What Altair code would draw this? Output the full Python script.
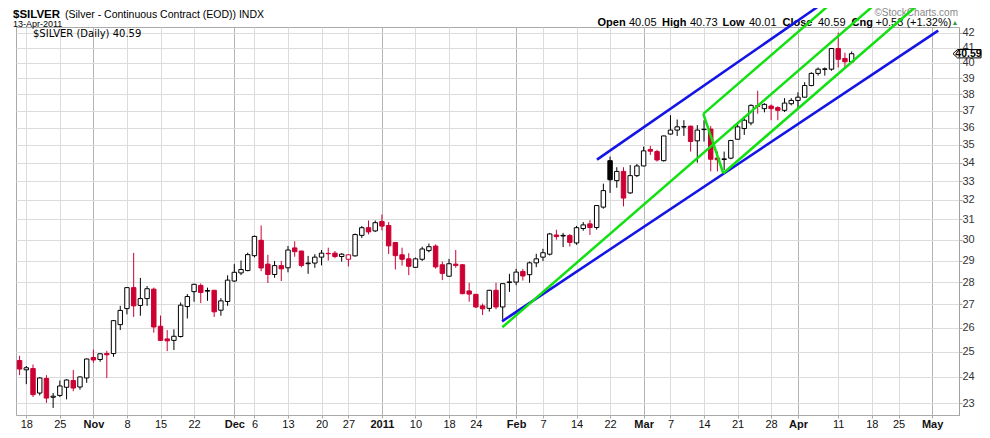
import altair as alt
import pandas as pd
import numpy as np

# ---------------- data ----------------
holidays = ["2010-11-25", "2010-12-24", "2011-01-17", "2011-02-21", "2011-04-22"]
first_day = "2010-10-15"

opens = [24.65, 24.28, 24.33, 23.38, 23.94, 23.22, 23.29, 23.60, 23.86, 23.61,
         23.96, 24.77, 24.69, 24.93, 24.93, 26.13, 26.82, 27.75, 26.96, 27.26,
         27.68, 26.06, 25.53, 25.47, 25.63, 26.91, 27.57, 27.85, 27.59, 27.63,
         26.75, 27.13, 28.05, 28.42, 28.53, 29.23, 29.97, 28.83, 28.35, 28.76,
         28.66, 29.60, 29.45, 28.85, 28.88, 29.16, 29.34, 29.35, 29.19, 29.06,
         29.22, 30.21, 30.59, 30.43, 30.90, 30.70, 29.86, 29.27, 29.08, 28.68,
         29.06, 29.47, 29.69, 28.80, 28.27, 28.83, 28.80, 27.60, 27.45, 26.94,
         26.83, 27.63, 26.89, 27.98, 28.00, 28.49, 28.34, 28.89, 29.16, 29.30,
         30.23, 30.18, 30.20, 29.84, 30.55, 30.78, 30.60, 31.63, 34.11, 33.02,
         33.52, 32.37, 33.29, 33.82, 34.74, 34.62, 34.11, 35.62, 35.85, 36.03,
         36.08, 35.23, 35.88, 35.91, 34.26, 34.18, 34.25, 35.32, 35.94, 36.27,
         37.30, 37.12, 37.28, 37.18, 37.02, 37.42, 37.62, 37.82, 38.54, 39.31,
         39.57, 39.58, 40.93, 40.28, 40.05]
highs = [24.84, 24.43, 24.49, 23.98, 24.07, 23.38, 23.86, 23.91, 24.27, 24.02,
         24.73, 25.09, 24.94, 25.04, 26.32, 26.94, 27.77, 29.36, 28.19, 27.82,
         27.75, 26.52, 25.90, 25.93, 27.09, 27.46, 27.92, 27.94, 27.75, 27.65,
         27.28, 28.31, 28.83, 29.00, 29.37, 30.20, 30.70, 29.27, 28.98, 28.98,
         29.69, 29.92, 29.47, 29.22, 29.30, 29.50, 29.61, 29.45, 29.35, 29.28,
         30.30, 30.67, 30.95, 30.95, 31.25, 30.87, 29.88, 29.61, 29.35, 29.14,
         29.66, 29.81, 29.77, 28.95, 29.08, 29.50, 28.83, 27.97, 27.46, 27.04,
         27.65, 27.97, 27.95, 28.38, 28.61, 28.61, 28.95, 29.32, 29.56, 30.33,
         30.49, 30.33, 30.28, 30.68, 30.87, 30.97, 31.73, 32.86, 34.34, 33.75,
         33.75, 33.87, 33.93, 34.90, 34.94, 34.72, 35.53, 36.73, 36.47, 36.43,
         36.10, 36.14, 36.43, 36.08, 34.62, 34.62, 35.28, 36.33, 36.66, 37.38,
         38.22, 37.45, 37.38, 37.26, 37.76, 37.76, 38.12, 38.75, 39.38, 39.69,
         39.69, 40.95, 42.00, 40.65, 40.73]
lows = [24.07, 23.72, 23.23, 23.29, 23.01, 22.82, 23.23, 23.14, 23.45, 23.51,
        23.77, 24.56, 24.60, 23.96, 24.80, 25.90, 26.57, 26.46, 26.51, 26.94,
        25.79, 25.44, 25.03, 25.07, 25.59, 26.39, 27.12, 27.06, 27.16, 26.46,
        26.51, 26.94, 28.00, 28.32, 28.50, 29.15, 28.50, 27.96, 28.20, 28.05,
        28.45, 29.18, 28.68, 28.38, 28.66, 28.77, 29.00, 29.11, 28.95, 28.72,
        29.19, 30.08, 30.26, 30.38, 30.46, 29.31, 28.58, 28.76, 28.32, 28.65,
        28.98, 29.39, 28.62, 28.09, 28.24, 28.66, 27.45, 27.12, 26.84, 26.54,
        26.69, 26.79, 26.34, 27.56, 27.86, 28.07, 27.97, 28.69, 28.98, 29.24,
        30.00, 29.64, 29.67, 29.75, 30.44, 30.23, 30.49, 31.55, 32.37, 32.64,
        31.67, 32.32, 33.21, 33.80, 34.43, 34.06, 34.06, 35.57, 35.51, 35.51,
        34.62, 34.00, 35.19, 33.52, 33.52, 33.60, 34.19, 35.30, 35.57, 36.13,
        36.82, 36.90, 36.43, 36.43, 36.92, 37.32, 37.12, 37.78, 38.50, 39.17,
        39.17, 39.48, 39.69, 39.69, 40.01]
closes = [24.31, 24.36, 23.32, 23.96, 23.19, 23.26, 23.65, 23.88, 23.57, 24.00,
          24.71, 24.67, 24.92, 24.88, 26.30, 26.74, 27.75, 26.94, 27.26, 27.70,
          26.03, 25.47, 25.45, 25.64, 26.97, 27.35, 27.90, 27.53, 27.62, 26.68,
          27.16, 28.09, 28.45, 28.58, 29.28, 30.16, 28.65, 28.35, 28.76, 28.61,
          29.50, 29.42, 28.77, 28.88, 29.16, 29.35, 29.32, 29.19, 29.30, 29.27,
          30.25, 30.59, 30.38, 30.84, 30.67, 29.70, 29.23, 29.06, 28.73, 29.08,
          29.55, 29.66, 28.70, 28.40, 28.85, 28.77, 27.48, 27.46, 26.89, 26.81,
          27.63, 26.89, 27.93, 28.01, 28.46, 28.28, 28.89, 29.08, 29.37, 30.28,
          30.15, 30.21, 29.87, 30.59, 30.73, 30.60, 31.71, 32.49, 33.07, 33.52,
          32.10, 33.29, 33.82, 34.66, 34.64, 34.15, 35.51, 35.85, 36.04, 36.05,
          35.19, 35.85, 35.90, 34.19, 34.16, 34.21, 35.25, 36.04, 36.43, 37.32,
          37.26, 37.38, 37.12, 37.02, 37.46, 37.62, 37.82, 38.54, 39.31, 39.58,
          39.60, 40.93, 40.22, 40.06, 40.59]

label_dates = ["2010-10-18", "2010-10-25", "2010-11-01", "2010-11-08", "2010-11-15",
               "2010-11-22", "2010-12-01", "2010-12-06", "2010-12-13", "2010-12-20",
               "2010-12-27", "2011-01-03", "2011-01-10", "2011-01-18", "2011-01-24",
               "2011-02-01", "2011-02-07", "2011-02-14", "2011-02-22", "2011-03-01",
               "2011-03-07", "2011-03-14", "2011-03-21", "2011-03-28", "2011-04-01",
               "2011-04-11", "2011-04-18", "2011-04-25", "2011-05-02"]
label_text = ["18", "25", "Nov", "8", "15", "22", "Dec", "6", "13", "20", "27", "2011",
              "10", "18", "24", "Feb", "7", "14", "22", "Mar", "7", "14", "21", "28",
              "Apr", "11", "18", "25", "May"]
bold_labels = ["Nov", "Dec", "2011", "Feb", "Mar", "Apr", "May"]
y_ticks = list(range(23, 43))

# trend lines (trading-day position, price)
line_seg = ["blue_lo", "blue_lo", "blue_hi", "blue_hi", "median", "median",
            "prong_top", "prong_top", "prong_low", "prong_low", "handle", "handle"]
line_pos = [71.9, 136.9, 86.05, 120.76, 71.94, 128.5, 101.9, 121.8, 104.87, 134.98, 101.9, 104.87]
line_price = [26.27, 42.14, 34.17, 44.41, 26.02, 44.41, 36.81, 44.41, 33.42, 44.41, 36.81, 33.42]

# ---------------- styles ----------------
RED = "#cc0033"
BLUE = "#1414e6"
GREEN = "#11e011"
seg_color = {"blue_lo": BLUE, "blue_hi": BLUE, "median": GREEN,
             "prong_top": GREEN, "prong_low": GREEN, "handle": GREEN}
FONT = "Liberation Sans"
OX, OY = 16, 27          # page position of the plot's top-left corner
W, H = 943, 388

# ---------------- tables ----------------
days = [d for d in pd.bdate_range(first_day, "2011-05-31")
        if d.strftime("%Y-%m-%d") not in holidays]
pos_of = {d.strftime("%Y-%m-%d"): i for i, d in enumerate(days)}
n = len(opens)
df = pd.DataFrame({"date": [d.strftime("%Y-%m-%d") for d in days[:n]],
                   "pos": np.arange(n), "open": opens, "high": highs,
                   "low": lows, "close": closes})
prev = df["close"].shift(1).fillna(df["open"])
df["col"] = np.where(df["close"] >= prev, "#000000", RED)
df["fillc"] = np.where(df["close"] >= df["open"], "#ffffff", df["col"])
df["x0"] = df["pos"] - 0.33
df["x1"] = df["pos"] + 0.33
df["top"] = df[["open", "close"]].max(axis=1)
df["bot"] = df[["open", "close"]].min(axis=1)

ldf = pd.DataFrame({"seg": line_seg, "pos": line_pos, "price": line_price})
ldf["color"] = ldf["seg"].map(seg_color)

label_pos = [pos_of[d] for d in label_dates]
month_pos = [p for p, t in zip(label_pos, label_text) if t in bold_labels]
lab_expr = ("[" + ",".join("'%s'" % t for t in label_text) + "][indexof(["
            + ",".join(str(p) for p in label_pos) + "], datum.value)]")
is_month = "indexof([" + ",".join(str(p) for p in month_pos) + "], datum.value) >= 0"

xs = alt.Scale(domain=[-0.535, 140.0], nice=False, zero=False)
ys = alt.Scale(type="log", domain=[22.56, 42.39], nice=False)

xaxis = alt.Axis(values=label_pos, labelExpr=lab_expr, title=None, grid=True,
                 gridColor={"condition": {"test": is_month, "value": "#b4b4b4"}, "value": "#dcdcdc"},
                 labelFontWeight={"condition": {"test": is_month, "value": "bold"}, "value": "normal"},
                 labelFont=FONT, labelFontSize=11, labelColor="#111111",
                 tickSize=3, tickColor="#aaaaaa", domainColor="#aaaaaa",
                 labelPadding=0, labelOverlap=False, labelFlush=False, labelBound=False)
yaxis = alt.Axis(orient="right", values=y_ticks, format="d", title=None, grid=True,
                 gridColor="#dcdcdc", labelFont=FONT, labelFontSize=11, labelColor="#333333",
                 tickSize=3, tickColor="#aaaaaa", domainColor="#999999", domainDash=[1, 1],
                 labelPadding=0, labelOverlap=False, labelFlush=False, labelBound=False)

wicks = alt.Chart(df).mark_rule(strokeWidth=1).encode(
    x=alt.X("pos:Q", scale=xs, axis=xaxis),
    y=alt.Y("low:Q", scale=ys, axis=yaxis),
    y2="high:Q",
    stroke=alt.Stroke("col:N", scale=None),
)
bodies = alt.Chart(df).mark_rect(strokeWidth=1).encode(
    x=alt.X("x0:Q", scale=xs, axis=xaxis), x2="x1:Q",
    y=alt.Y("bot:Q", scale=ys, axis=yaxis), y2="top:Q",
    fill=alt.Fill("fillc:N", scale=None),
    stroke=alt.Stroke("col:N", scale=None),
)
lines = alt.Chart(ldf).mark_line(strokeWidth=2.5, clip=False).encode(
    x=alt.X("pos:Q", scale=xs, axis=xaxis),
    y=alt.Y("price:Q", scale=ys, axis=yaxis),
    detail="seg:N",
    color=alt.Color("color:N", scale=None),
)


def txt(s, px, py, size, weight="normal", color="#000000", font=FONT, align="left"):
    # px, py: page position of the text anchor (converted to plot-relative pixels)
    return alt.Chart(pd.DataFrame({"t": [s]})).mark_text(
        align=align, baseline="alphabetic", fontSize=size, fontWeight=weight,
        color=color, font=font).encode(x=alt.value(px - OX), y=alt.value(py - OY), text="t:N")


last = df.iloc[-1]
chg = closes[-1] - closes[-2]
pct = chg / closes[-2] * 100

HY = 25.5
texts = [
    txt("$SILVER", 13, 18, 11.5, "bold"),
    txt("(Silver - Continuous Contract (EOD)) INDX", 65, 18, 10.5),
    txt(pd.Timestamp(last["date"]).strftime("%d-%b-%Y"), 13, 26.6, 9),
    txt("\u00a9StockCharts.com", 958, 16, 10, color="#888888", align="right"),
    txt("$SILVER (Daily) %.2f" % last["close"], 33, 36.5, 10, font="DejaVu Sans"),
    txt("Open", 597.5, HY, 11, "bold"),
    txt("%.2f" % last["open"], 629, HY, 11),
    txt("High", 662, HY, 11, "bold"),
    txt("%.2f" % last["high"], 690, HY, 11),
    txt("Low", 722.5, HY, 11, "bold"),
    txt("%.2f" % last["low"], 749, HY, 11),
    txt("Close", 782.5, HY, 11, "bold"),
    txt("%.2f" % last["close"], 818, HY, 11),
    txt("Cng", 851.5, HY, 11, "bold"),
    txt("%+.2f (%+.2f%%)" % (chg, pct), 875.5, HY, 11),
    txt("\u25b2", 951.5, HY - 0.5, 7, color="#2e9e2e"),
]

last_df = pd.DataFrame({"price": [closes[-1]]})
box_path = "M -1 0 L -0.68 -0.3 L 1 -0.3 L 1 0.3 L -0.68 0.3 Z"
box = alt.Chart(last_df).mark_point(shape=box_path, size=784, filled=True, fill="#ffffff",
                                    stroke="#000000", strokeWidth=1, opacity=1).encode(
    x=alt.value(967 - OX), y=alt.Y("price:Q", scale=ys, axis=yaxis))
box_text = alt.Chart(last_df).mark_text(fontWeight="bold", fontSize=10.5, font=FONT,
                                        align="center", baseline="middle", color="#000000").encode(
    x=alt.value(968.5 - OX), y=alt.Y("price:Q", scale=ys, axis=yaxis),
    text=alt.Text("price:Q", format=".2f"))

chart = alt.layer(wicks, bodies, *texts, lines, box, box_text).properties(
    width=W, height=H,
    autosize=alt.AutoSizeParams(type="none"),
    padding={"left": OX - 8, "top": OY - 8, "right": 974 - (OX - 8) - W, "bottom": 422 - (OY - 8) - H},
    background="#ffffff",
).configure_view(stroke="#aaaaaa")

chart.save("out.html", embed_options={"renderer": "svg", "actions": False})
